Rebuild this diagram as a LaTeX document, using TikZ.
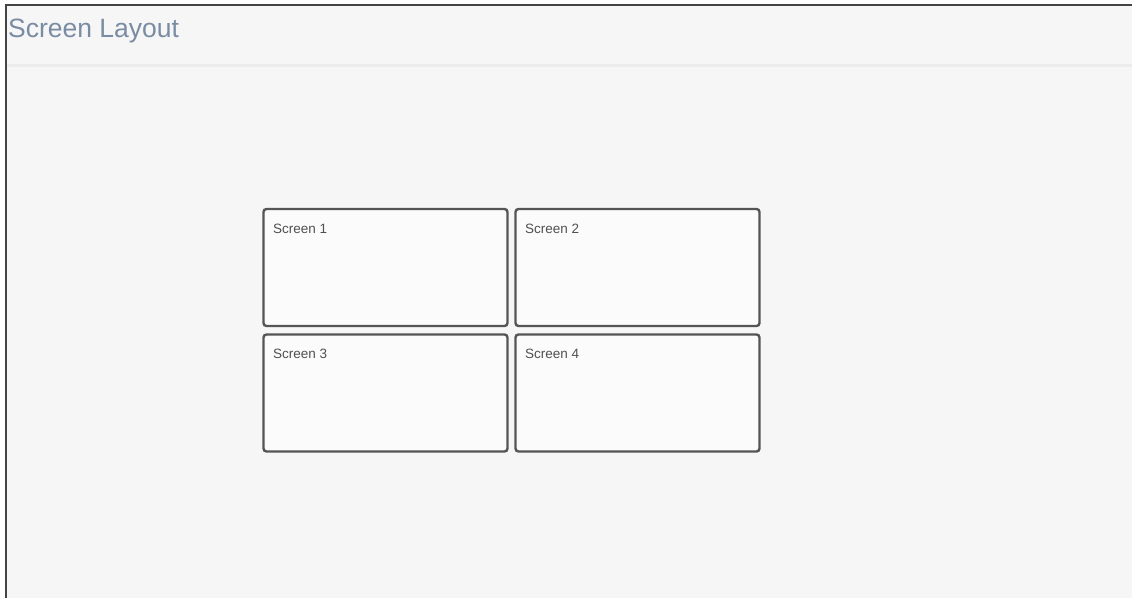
\documentclass[tikz,border=0pt]{standalone}
\usepackage{fontspec}
\setmainfont{Liberation Sans}
\definecolor{bgc}{HTML}{F6F6F6}
\definecolor{sepc}{HTML}{ECECEC}
\definecolor{titlec}{HTML}{7A8CA3}
\definecolor{framec}{HTML}{444444}
\definecolor{boxc}{HTML}{555555}
\definecolor{boxfill}{HTML}{FBFBFB}
\definecolor{labelc}{HTML}{505050}
\tikzset{
  screenbox/.style={draw=boxc, line width=2.4pt, fill=boxfill, rounded corners=3pt,
    minimum width=244pt, minimum height=117pt, inner sep=0pt, outer sep=0pt},
  screenlabel/.style={anchor=base west, text=labelc, font=\fontsize{13.5pt}{15pt}\selectfont, inner sep=0pt},
}
\begin{document}
\begin{tikzpicture}[x=1pt,y=-1pt]
\useasboundingbox (0,0) rectangle (1132,598);
\fill[white] (0,0) rectangle (1132,598);
\fill[bgc] (6,4) rectangle (1132,598);
% header separator
\fill[sepc] (7,63.5) rectangle (1132,66.5);
% frame lines
\draw[framec, line width=2pt] (6,598) -- (6,4.5) -- (1132,4.5);
% title
\node[anchor=base west, text=titlec, font=\fontsize{26.5pt}{30pt}\selectfont, inner sep=0pt] (title) at (8,37) {Screen Layout};
% screens
\node[screenbox, anchor=north west] (s1) at (263.5,209) {};
\node[screenbox, anchor=north west] (s2) at (515.5,209) {};
\node[screenbox, anchor=north west] (s3) at (263.5,334.5) {};
\node[screenbox, anchor=north west] (s4) at (515.5,334.5) {};
\node[screenlabel] (l1) at ([xshift=9.5pt,yshift=-24pt]s1.north west) {Screen 1};
\node[screenlabel] (l2) at ([xshift=9.5pt,yshift=-24pt]s2.north west) {Screen 2};
\node[screenlabel] (l3) at ([xshift=9.5pt,yshift=-24pt]s3.north west) {Screen 3};
\node[screenlabel] (l4) at ([xshift=9.5pt,yshift=-24pt]s4.north west) {Screen 4};
\end{tikzpicture}
\end{document}
